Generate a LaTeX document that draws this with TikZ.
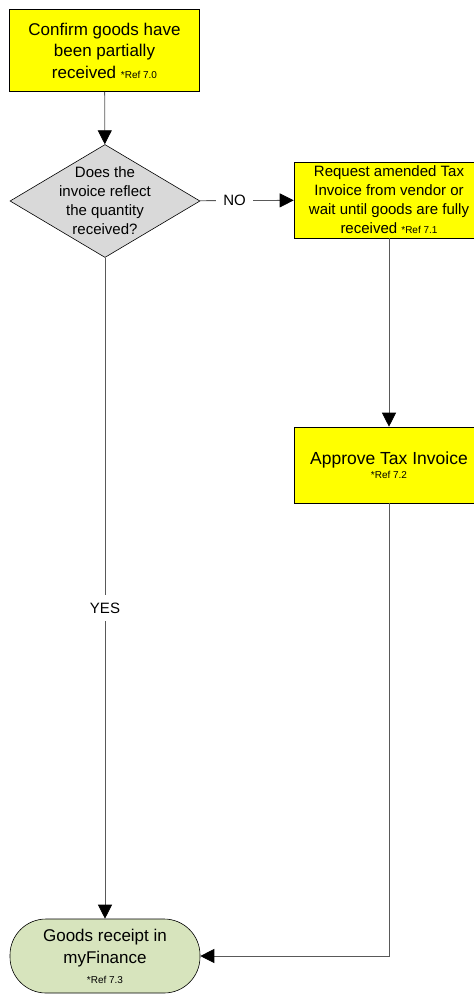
\documentclass[tikz,border=0pt]{standalone}
\usepackage{fontspec}
\setmainfont{Liberation Sans}
\usetikzlibrary{arrows.meta,shapes.geometric}
\definecolor{stepyellow}{HTML}{FFFF00}
\definecolor{askgray}{HTML}{D9D9D9}
\definecolor{endgreen}{HTML}{D7E4BD}
\newcommand{\reffont}{\fontsize{10}{11}\selectfont}

\begin{document}
\begin{tikzpicture}[x=1pt,y=-1pt]
	\tikzset{edge/.style = {draw=black!65, line width=0.8pt, -{Triangle[length=14pt,width=14pt,color=black]}}}
	\tikzset{task/.style = {rectangle, draw, line width=0.6pt, fill=stepyellow, align=center,
		minimum width=190pt, minimum height=76pt, inner sep=1pt}}
	\tikzset{decision/.style = {diamond, draw, line width=0.6pt, fill=askgray, align=center,
		minimum width=190pt, minimum height=113pt, inner sep=-14pt,
		font=\fontsize{15}{19}\selectfont}}
	\tikzset{terminal/.style = {rectangle, rounded corners=36pt, draw, line width=0.6pt, fill=endgreen,
		align=center, minimum width=190pt, minimum height=74pt, inner sep=1pt}}
	\tikzset{answer/.style = {fill=white, inner xsep=7pt, inner ysep=2pt, font=\fontsize{15}{19}\selectfont}}

	\useasboundingbox (0,0) rectangle (474,994);
	\clip (0,0) rectangle (474,994);

	\node[task, minimum height=82pt, font=\fontsize{17}{21.5}\selectfont] (confirm) at (104.5,50.5)
		{Confirm goods have\\been partially\\received {\reffont *Ref 7.0}};
	\node[decision] (reflect) at (105,201)
		{Does the\\invoice reflect\\the quantity\\received?};
	\node[task, font=\fontsize{15}{19}\selectfont] (request) at (389,200)
		{Request amended Tax\\Invoice from vendor or\\wait until goods are fully\\received {\reffont *Ref 7.1}};
	\node[task, font=\fontsize{17.5}{21.5}\selectfont] (approve) at (389,465)
		{Approve Tax Invoice\\[-7pt]{\reffont *Ref 7.2}};
	\node[terminal, font=\fontsize{17}{22}\selectfont] (receipt) at (105,956)
		{Goods receipt in\\myFinance\\[-2pt]{\reffont *Ref 7.3}};

	\draw[edge] (confirm) -- (reflect);
	\draw[edge] (reflect) -- node[answer, pos=0.37] {NO} (request);
	\draw[edge] (request) -- (approve);
	\draw[edge] (reflect) -- node[answer, pos=0.53, inner xsep=2pt, inner ysep=8pt] {YES} (receipt);
	\draw[edge] (approve.south) |- (receipt.east);
\end{tikzpicture}
\end{document}
